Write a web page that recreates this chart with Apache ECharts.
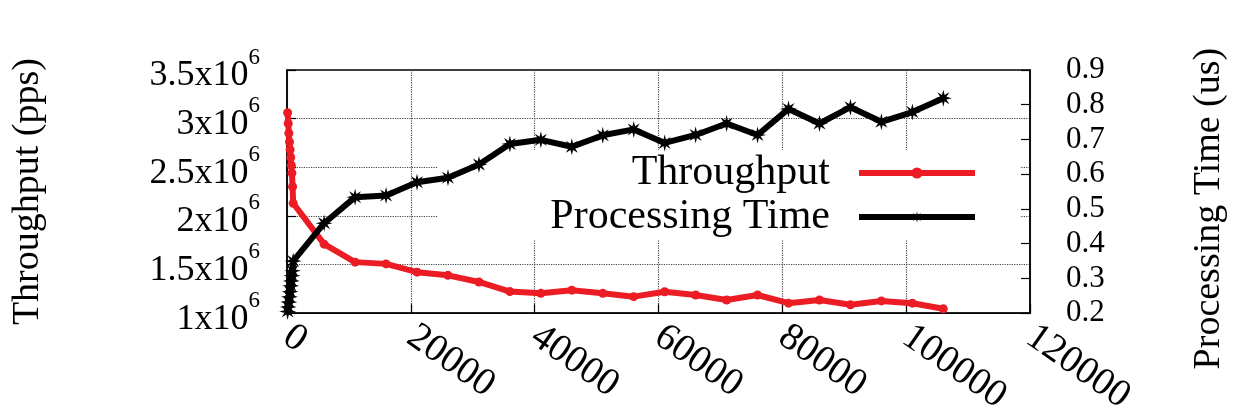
<!DOCTYPE html>
<html>
<head>
<meta charset="utf-8">
<script src="https://cdn.jsdelivr.net/npm/echarts@6/dist/echarts.min.js"></script>
<style>
html,body{margin:0;padding:0;background:#fff;}
#chart{width:1236px;height:418px;}
</style>
</head>
<body>
<div id="chart"></div>
<script>
// ---- data ----
const loadValues = [100, 200, 300, 400, 500, 600, 700, 800, 900, 1000,
  6000, 11000, 16000, 21000, 26000, 31000, 36000, 41000, 46000, 51000, 56000,
  61000, 66000, 71000, 76000, 81000, 86000, 91000, 96000, 101000, 106000];
const throughput = [3060000, 2950000, 2850000, 2760000, 2680000, 2600000, 2520000, 2440000, 2300000, 2130000,
  1710000, 1525000, 1507000, 1422000, 1389000, 1321000, 1222000, 1204000, 1237000, 1204000, 1170000,
  1220000, 1187000, 1136000, 1187000, 1103000, 1136000, 1086000, 1126000, 1103000, 1045000];
const procTime = [0.205, 0.218, 0.232, 0.247, 0.262, 0.279, 0.293, 0.308, 0.322, 0.350,
  0.459, 0.534, 0.539, 0.577, 0.590, 0.628, 0.687, 0.699, 0.679, 0.712, 0.729,
  0.690, 0.713, 0.746, 0.713, 0.788, 0.746, 0.793, 0.751, 0.779, 0.819];
const seriesNames = ['Throughput', 'Processing Time'];
const xTicks = [0, 120000, 20000];        // min, max, step
const leftTicks = [1000000, 3500000, 500000];
const rightTicks = [0.2, 0.9, 0.1];
const axisTitles = ['Throughput (pps)', 'Processing Time (us)'];

const FONT = "'Liberation Serif', 'Times New Roman', serif";
const RED = '#ec1c24';
const BLACK = '#000000';
const STAR = 'path://M20 10L13.7 11.53L17.07 17.07L11.53 13.7L10 20L8.47 13.7L2.93 17.07L6.3 11.53L0 10L6.3 8.47L2.93 2.93L8.47 6.3L10 0L11.53 6.3L17.07 2.93L13.7 8.47Z';

const chart = echarts.init(document.getElementById('chart'), null, {renderer: 'canvas'});

const legendBase = {
  orient: 'vertical', align: 'right', right: 258, padding: 0,
  itemWidth: 116, itemHeight: 14,
  lineStyle: {width: 6},
  textStyle: {fontFamily: FONT, fontSize: 42, color: '#000', padding: [0, 24, 0, 0]},
  selectedMode: false
};

const option = {
  backgroundColor: '#ffffff',
  animation: false,
  grid: {left: 287, right: 205, top: 70, bottom: 99, show: true,
         borderColor: '#000', borderWidth: 1.5, backgroundColor: 'transparent'},
  graphic: [{
    type: 'rect', left: 438, top: 150, z: 1, silent: true,
    shape: {width: 582, height: 90},
    style: {fill: '#ffffff', stroke: null, lineWidth: 0}
  }],
  legend: [
    Object.assign({}, legendBase, {data: [seriesNames[0]], top: 152}),
    Object.assign({}, legendBase, {data: [seriesNames[1]], top: 196})
  ],
  xAxis: {
    type: 'value', min: xTicks[0], max: xTicks[1], interval: xTicks[2],
    axisLine: {show: true, lineStyle: {color: '#000', width: 1.5}},
    axisTick: {show: true, inside: true, length: 9, lineStyle: {color: '#000', width: 1.2}},
    splitLine: {show: true, lineStyle: {type: 'dotted', color: '#444', width: 1.2}},
    axisLabel: {
      rotate: -35, margin: 20, fontFamily: FONT, fontSize: 39, color: '#000',
      showMinLabel: true, showMaxLabel: true,
      formatter: v => String(v)
    }
  },
  yAxis: [
    {
      type: 'value', position: 'left', min: leftTicks[0], max: leftTicks[1], interval: leftTicks[2],
      name: axisTitles[0], nameLocation: 'middle', nameGap: 240, nameRotate: 90,
      nameTextStyle: {fontFamily: FONT, fontSize: 38, color: '#000'},
      axisLine: {show: true, lineStyle: {color: '#000', width: 1.5}},
      axisTick: {show: true, inside: true, length: 9, lineStyle: {color: '#000', width: 1.2}},
      splitLine: {show: true, lineStyle: {type: 'dotted', color: '#444', width: 1.2}},
      axisLabel: {
        margin: 27, color: '#000', showMinLabel: true, showMaxLabel: true,
        formatter: v => '{h| }{m|' + (v / 1000000) + 'x10}{s|6}',
        rich: {
          h: {fontSize: 1, lineHeight: 48, fontFamily: FONT},
          m: {fontFamily: FONT, fontSize: 36, lineHeight: 36, verticalAlign: 'bottom', color: '#000'},
          s: {fontFamily: FONT, fontSize: 23, lineHeight: 23, verticalAlign: 'top', color: '#000'}
        }
      }
    },
    {
      type: 'value', position: 'right', min: rightTicks[0], max: rightTicks[1], interval: rightTicks[2],
      name: axisTitles[1], nameLocation: 'middle', nameGap: 160, nameRotate: 90,
      nameTextStyle: {fontFamily: FONT, fontSize: 38, color: '#000', padding: [0, 34, 0, 0]},
      axisLine: {show: true, lineStyle: {color: '#000', width: 1.5}},
      axisTick: {show: true, inside: true, length: 9, lineStyle: {color: '#000', width: 1.2}},
      splitLine: {show: false},
      axisLabel: {
        margin: 36, color: '#000', fontFamily: FONT, fontSize: 31, lineHeight: 30,
        showMinLabel: true, showMaxLabel: true, hideOverlap: false,
        formatter: v => v.toFixed(1)
      }
    }
  ],
  series: [
    {
      name: seriesNames[0], type: 'line', yAxisIndex: 0,
      data: loadValues.map((x, i) => [x, throughput[i]]),
      symbol: 'circle', symbolSize: 9, showAllSymbol: true,
      lineStyle: {color: RED, width: 6},
      itemStyle: {color: RED},
      z: 3
    },
    {
      name: seriesNames[1], type: 'line', yAxisIndex: 1,
      data: loadValues.map((x, i) => [x, procTime[i]]),
      symbol: STAR, symbolSize: 17, showAllSymbol: true,
      lineStyle: {color: BLACK, width: 6},
      itemStyle: {color: BLACK},
      z: 4
    }
  ]
};
chart.setOption(option);
</script>
</body>
</html>
